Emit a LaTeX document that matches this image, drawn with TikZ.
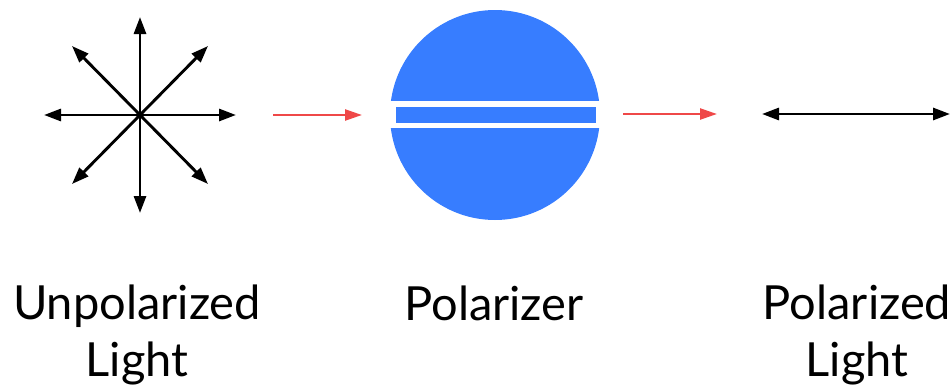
\documentclass[tikz,border=0pt]{standalone}
\usepackage{fontspec}
\setmainfont{Lato}
\usetikzlibrary{arrows.meta}
\definecolor{polblue}{HTML}{377DFF}
\definecolor{beamred}{HTML}{EF4848}
\tikzset{
  ray/.style={line width=2.9pt, black, {Triangle[length=17pt,width=12pt]}-{Triangle[length=17pt,width=12pt]}},
  beam/.style={line width=2.4pt, beamred, -{Triangle[length=17pt,width=11pt]}},
  caption/.style={font=\fontsize{47}{57}\selectfont, align=center, inner sep=0pt, anchor=base, text=black}
}
\begin{document}
\begin{tikzpicture}[x=1pt,y=-1pt]
  \useasboundingbox (0,0) rectangle (951,388);

  % unpolarized light: rays in all directions
  \coordinate (c) at (140,115);
  \draw[ray] (c) ++(-96,0) coordinate (w) -- ++(192,0) coordinate (e);
  \draw[ray] (c) ++(0,-98) coordinate (n) -- ++(0,196) coordinate (s);
  \draw[ray] (c) ++(-68,-69) coordinate (nw) -- ++(136,138) coordinate (se);
  \draw[ray] (c) ++(68,-69) coordinate (ne) -- ++(-136,138) coordinate (sw);

  % polarizer disc with its slot
  \fill[polblue] (495,115) circle[radius=105];
  \fill[white] (385,101) rectangle (605,128);
  \node[draw=none, fill=polblue, minimum width=200pt, minimum height=16pt, inner sep=0pt] (pol) at (496,115) {};

  % beam arrows
  \coordinate (b1s) at (273,115);
  \coordinate (b1e) at (362,115);
  \coordinate (b2s) at (623,114);
  \coordinate (b2e) at (717,114);
  \draw[beam] (b1s) -- (b1e);
  \draw[beam] (b2s) -- (b2e);

  % polarized light: one direction only
  \coordinate (pl) at (762,114);
  \coordinate (pr) at (950,114);
  \draw[ray] (pl) -- (pr);

  % captions (base anchor sits on the last line)
  \node[caption] (cap1) at (137,376) {Unpolarized\\Light};
  \node[caption] (cap2) at (494,320) {Polarizer};
  \node[caption] (cap3) at (857,376) {Polarized\\Light};
\end{tikzpicture}
\end{document}
